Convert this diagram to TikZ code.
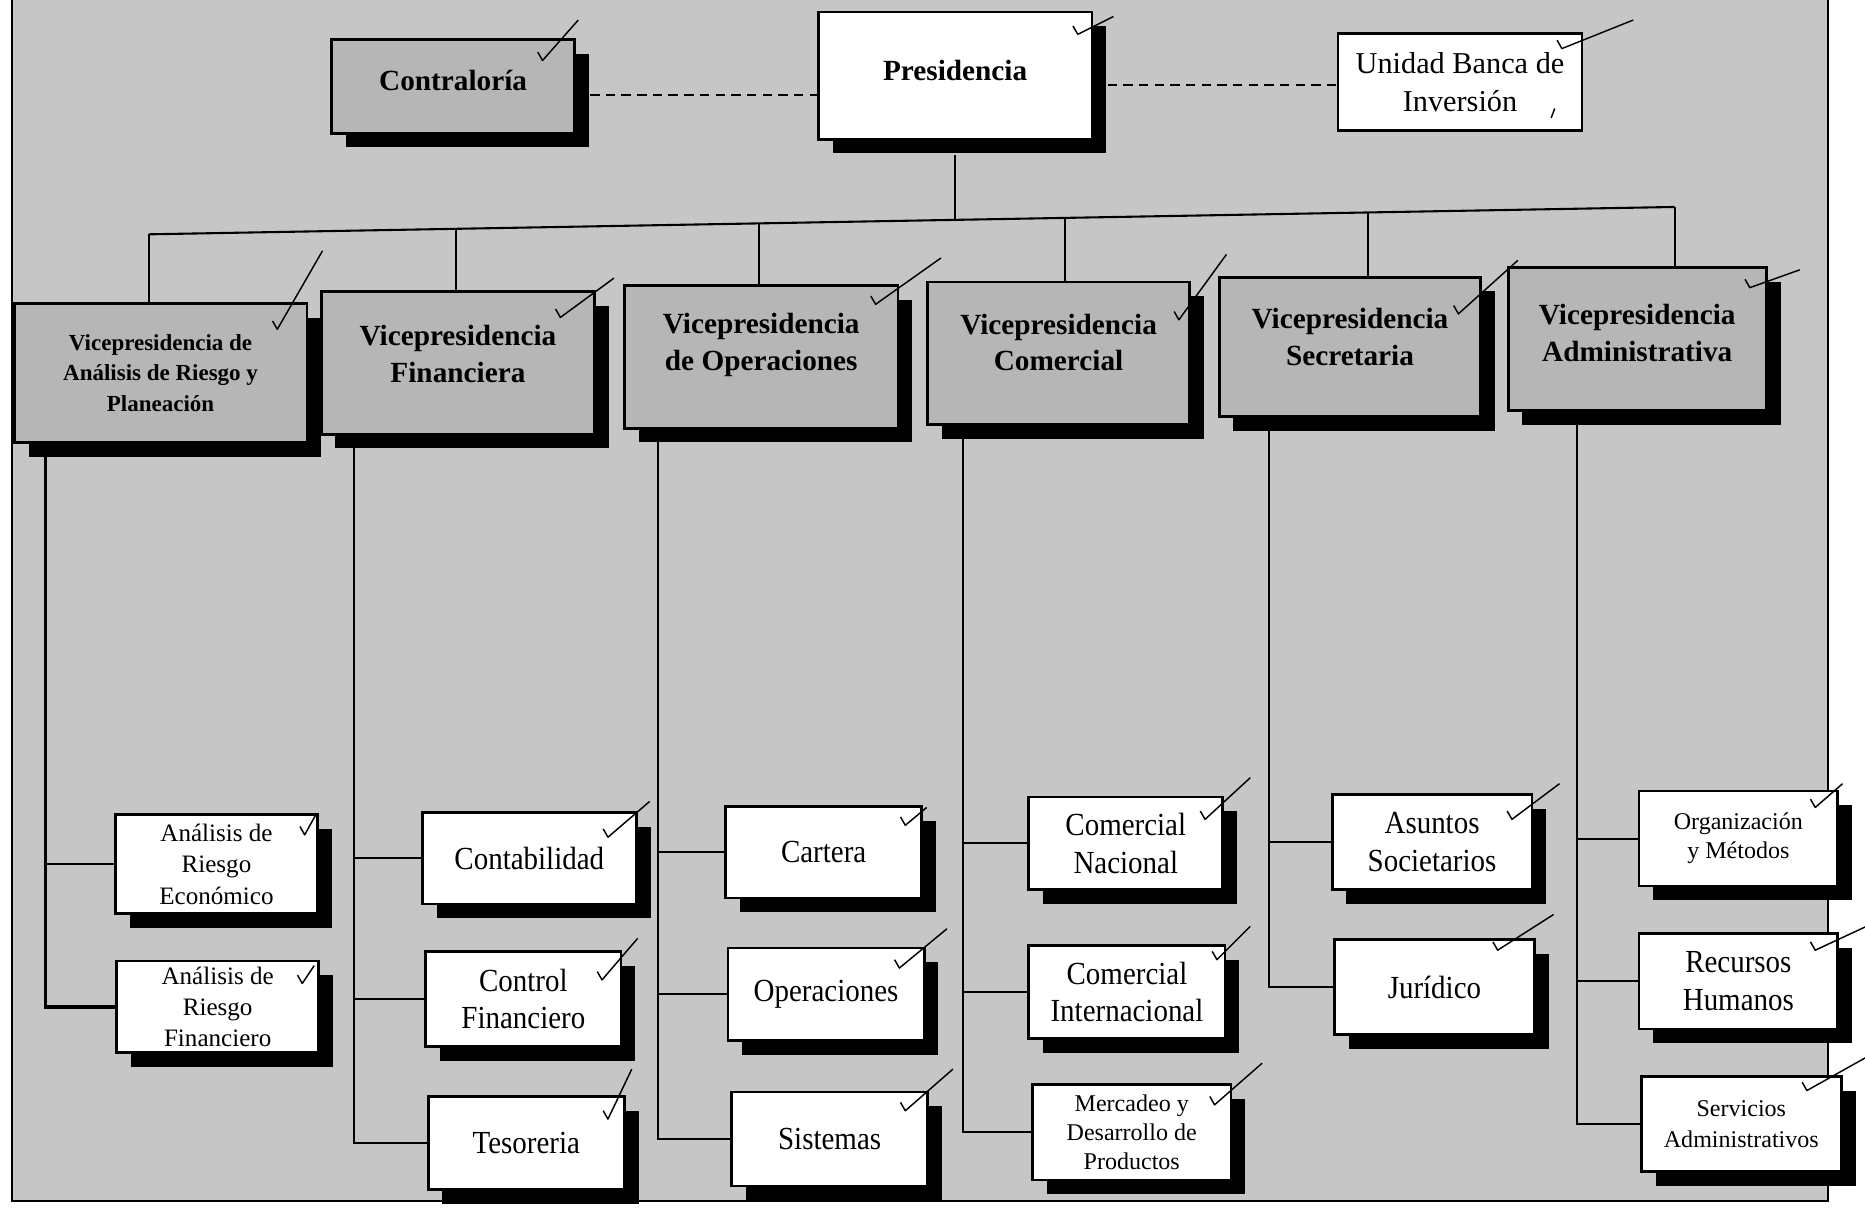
\documentclass[tikz,border=0pt]{standalone}
\usepackage{fontspec}
\setmainfont{Liberation Serif}
\newfontfamily\condf[FakeStretch=0.9]{Liberation Serif}
\usetikzlibrary{shadows,calc}
\definecolor{bgc}{RGB}{198,198,198}
\definecolor{boxg}{RGB}{182,182,182}
\newcommand\tk[5]{\draw[tickst] ($(#1.north east)+(#2,#3)$) -- ($(#1.north east)+(#4,#5)$) -- ++(-4,-7);}
\begin{document}
\begin{tikzpicture}[x=0.02cm,y=-0.02cm,
  sz/.style 2 args={minimum width=#1*0.02cm, minimum height=#2*0.02cm},
  box/.style={draw=black, line width=1.3pt, rectangle, inner sep=0pt, align=center,
    drop shadow={shadow xshift=0.24cm, shadow yshift=-0.24cm, fill=black, opacity=1}},
  wbox/.style={box, fill=white, font=\condf\fontsize{15.4}{18}\selectfont},
  sbox/.style={box, fill=white, font=\fontsize{11.5}{14.5}\selectfont},
  gbox/.style={box, fill=boxg, font=\bfseries\fontsize{14}{17.5}\selectfont},
  vplab/.style={font=\bfseries\fontsize{14}{17.5}\selectfont, align=center, inner sep=0pt},
  conn/.style={line width=1pt, black},
  dsh/.style={line width=1pt, black, dash pattern=on 4.5pt off 3pt},
  tickst/.style={line width=0.7pt, black, line join=round}
]
\useasboundingbox (0,0) rectangle (1568,1022);
\fill[bgc] (10,0) rectangle (1537,1010);
\draw[line width=1pt] (10,0) -- (10,1010) -- (1537,1010) -- (1537,0);

% top row
\node[gbox, sz={204}{79}, text depth=6pt] (contr) at (381,72.5) {Contraloría};
\node[box, fill=white, font=\bfseries\fontsize{14}{17.5}\selectfont, sz={230}{107}, text depth=5pt] (pres) at (803,63.5) {Presidencia};
\node[draw=black, line width=1.3pt, fill=white, inner sep=0pt, align=center, font=\fontsize{14.5}{18}\selectfont, sz={205}{82}] (unidad) at (1227.5,69) {Unidad Banca de\\Inversión};

% vice presidencies
\node[gbox, sz={246}{117}, font=\bfseries\fontsize{11}{14.5}\selectfont] (vp1) at (135,313.5) {Vicepresidencia de\\Análisis de Riesgo y\\Planeación};
\node[gbox, sz={230}{120}, label={[name=vp2t, vplab, yshift=0.15cm]center:{Vicepresidencia\\Financiera}}] (vp2) at (385,305) {};
\node[gbox, sz={230}{120}, label={[name=vp3t, vplab, yshift=0.2cm]center:{Vicepresidencia\\de Operaciones}}] (vp3) at (640,300) {};
\node[gbox, sz={220}{120}, label={[name=vp4t, vplab, yshift=0.18cm]center:{Vicepresidencia\\Comercial}}] (vp4) at (890,297) {};
\node[gbox, sz={220}{117}, label={[name=vp5t, vplab, yshift=0.16cm]center:{Vicepresidencia\\Secretaria}}] (vp5) at (1135,291.5) {};
\node[gbox, sz={217}{120}, label={[name=vp6t, vplab, yshift=0.1cm]center:{Vicepresidencia\\Administrativa}}] (vp6) at (1376.5,285) {};

% children
\node[sbox, sz={170}{83}, font=\fontsize{12}{15}\selectfont] (c11) at (182,726.5) {Análisis de\\Riesgo\\Económico};
\node[sbox, sz={170}{77}, font=\fontsize{12}{15}\selectfont] (c12) at (183,846.5) {Análisis de\\Riesgo\\Financiero};
\node[wbox, sz={180}{77}] (c21) at (445,721.5) {Contabilidad};
\node[wbox, sz={164}{80}] (c22) at (440,840) {Control\\Financiero};
\node[wbox, sz={165}{78}] (c23) at (442.5,961) {Tesoreria};
\node[wbox, sz={165}{77}] (c31) at (692.5,716.5) {Cartera};
\node[wbox, sz={165}{78}] (c32) at (694.5,836) {Operaciones};
\node[wbox, sz={165}{79}] (c33) at (697.5,957.5) {Sistemas};
\node[wbox, sz={163}{78}] (c41) at (946.5,709) {Comercial\\Nacional};
\node[wbox, sz={165}{78}] (c42) at (947.5,834) {Comercial\\Internacional};
\node[sbox, sz={167}{80}, font=\fontsize{11.5}{14}\selectfont] (c43) at (951.5,952) {Mercadeo y\\Desarrollo de\\Productos};
\node[wbox, sz={168}{80}] (c51) at (1204,708) {Asuntos\\Societarios};
\node[wbox, sz={168}{80}] (c52) at (1206,830) {Jurídico};
\node[sbox, sz={167}{80}, font=\fontsize{11.5}{14}\selectfont] (c61) at (1461.5,705) {Organización\\y Métodos};
\node[wbox, sz={167}{80}] (c62) at (1461.5,825) {Recursos\\Humanos};
\node[sbox, sz={168}{80}, font=\fontsize{11.5}{15}\selectfont] (c63) at (1464,945) {Servicios\\Administrativos};

% dashed links
\draw[dsh] ($(contr.east)+(12,7)$) coordinate (d1) -- (d1 -| pres.west);
\draw[dsh] ($(pres.east)+(12,8)$) coordinate (d2) -- (d2 -| unidad.west);

% bus
\coordinate (b1) at (125,197);
\coordinate (b6) at (1408,174);
\coordinate (b2) at ($(b1)!0.2011!(b6)$);
\coordinate (b3) at ($(b1)!0.3998!(b6)$);
\coordinate (bp) at ($(b1)!0.5300!(b6)$);
\coordinate (b4) at ($(b1)!0.6002!(b6)$);
\coordinate (b5) at ($(b1)!0.7989!(b6)$);
\draw[conn] ($(pres.south)+(0,12)$) -- (pres.south |- bp);
\draw[conn] (b1) -- (b6);
\foreach \i in {1,...,6} {\draw[conn] (b\i) -- (b\i |- vp\i.north);}

% spines
\coordinate (s1) at (38,0);
\coordinate (s2) at (298,0);
\coordinate (s3) at (553,0);
\coordinate (s4) at (810,0);
\coordinate (s5) at (1067,0);
\coordinate (s6) at (1326,0);
\draw[conn, line width=1.6pt] (vp1.south -| s1) |- (c12.west);
\draw[conn] (s1 |- c11.west) -- (c11.west);
\draw[conn] (vp2.south -| s2) |- (c23.west);
\draw[conn] (s2 |- c21.west) -- (c21.west);
\draw[conn] (s2 |- c22.west) -- (c22.west);
\draw[conn] (vp3.south -| s3) |- (c33.west);
\draw[conn] (s3 |- c31.west) -- (c31.west);
\draw[conn] (s3 |- c32.west) -- (c32.west);
\draw[conn] (vp4.south -| s4) |- (c43.west);
\draw[conn] (s4 |- c41.west) -- (c41.west);
\draw[conn] (s4 |- c42.west) -- (c42.west);
\draw[conn] (vp5.south -| s5) |- (c52.west);
\draw[conn] (s5 |- c51.west) -- (c51.west);
\draw[conn] (vp6.south -| s6) |- (c63.west);
\draw[conn] (s6 |- c61.west) -- (c61.west);
\draw[conn] (s6 |- c62.west) -- (c62.west);

% check marks
\tk{contr}{2}{-15}{-28}{19}
\tk{pres}{17}{5}{-13}{20}
\tk{unidad}{42}{-10}{-18}{14}
\draw[tickst] ($(unidad.south east)+(-27,-12)$) -- ++(3,-8);
\tk{vp1}{12}{-43}{-26}{23}
\tk{vp2}{15}{-10}{-30}{23}
\tk{vp3}{35}{-22}{-20}{17}
\tk{vp4}{30}{-22}{-10}{33}
\tk{vp5}{30}{-13}{-20}{32}
\tk{vp6}{27}{3}{-15}{18}
\tk{c11}{-2}{0}{-12}{18}
\tk{c12}{-5}{5}{-15}{20}
\tk{c21}{10}{-8}{-25}{22}
\tk{c22}{13}{-10}{-17}{25}
\tk{c23}{5}{-22}{-15}{20}
\tk{c31}{3}{2}{-15}{17}
\tk{c32}{18}{-15}{-22}{18}
\tk{c33}{20}{-18}{-20}{17}
\tk{c41}{22}{-15}{-16}{20}
\tk{c42}{20}{-15}{-8}{13}
\tk{c43}{25}{-17}{-15}{18}
\tk{c51}{22}{-8}{-18}{22}
\tk{c52}{15}{-20}{-32}{10}
\tk{c61}{3}{-5}{-20}{15}
\tk{c62}{23}{-5}{-20}{15}
\tk{c63}{20}{-15}{-30}{13}
\end{tikzpicture}
\end{document}
